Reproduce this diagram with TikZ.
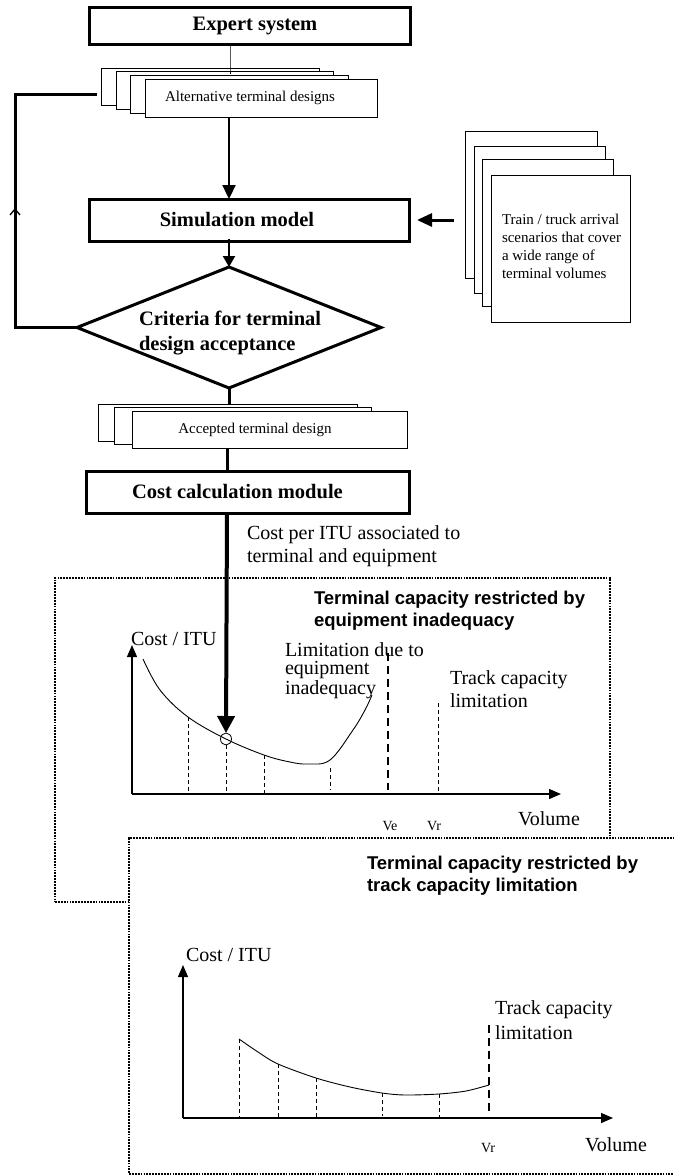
\documentclass[tikz,border=0pt]{standalone}
\usepackage{fontspec}
\setmainfont{Liberation Serif}
\newfontfamily\titlesans{Liberation Sans}
\usetikzlibrary{arrows.meta,shapes.geometric}
\begin{document}
\begin{tikzpicture}[x=1pt,y=-1pt,
  every node/.style={inner sep=0pt, outer sep=0pt},
  heavybox/.style={draw, line width=3pt, fill=white},
  sheet/.style={draw, line width=0.9pt, fill=white},
  boldlabel/.style={font=\fontsize{20.5}{25}\selectfont\bfseries},
  smalltext/.style={font=\fontsize{15}{18}\selectfont},
  charttext/.style={font=\fontsize{20}{20}\selectfont},
  paneltitle/.style={font=\fontsize{18.5}{22}\selectfont\titlesans\bfseries, align=left},
  flow/.style={line width=2.2pt},
  heavy/.style={line width=3pt},
  axisline/.style={line width=1.3pt, -{Triangle[length=12pt,width=10pt]}},
  guide/.style={line width=0.8pt, dash pattern=on 4pt off 3pt},
  limit/.style={line width=2.6pt, dash pattern=on 8pt off 5pt},
  panel/.style={draw, line width=1.8pt, dash pattern=on 1.8pt off 1.1pt},
  curve/.style={line width=0.9pt},
]
\useasboundingbox (0,0) rectangle (673,1176);
\fill[white] (0,0) rectangle (673,1176);

% ---------- flow chart ----------
\coordinate (spine) at (229,0);
\coordinate (spinelow) at (227,0);

\node[heavybox, minimum width=321pt, minimum height=37pt, anchor=north west, boldlabel]
  (expert) at (89.5,7.5) {\hspace*{10pt}Expert system};

\node[sheet, minimum width=218pt, minimum height=37pt, anchor=north west] (alt1) at (101,68) {};
\node[sheet, minimum width=217pt, minimum height=38pt, anchor=north west] (alt2) at (116,71) {};
\draw[line width=1pt] (expert.south -| 230,0) -- (alt2.north -| 230,0) -- +(0,3);
\node[sheet, minimum width=218pt, minimum height=38pt, anchor=north west] (alt3) at (130,75) {};
\node[sheet, minimum width=232pt, minimum height=38pt, anchor=north west, smalltext]
  (alt4) at (145,79) {\hspace*{-22pt}Alternative terminal designs};

\node[heavybox, minimum width=320pt, minimum height=42pt, anchor=north west, boldlabel]
  (sim) at (89,199) {\hspace*{-24pt}Simulation model};

\draw[flow, -{Triangle[length=14pt,width=13pt]}] (alt4.south -| spine) -- (sim.north -| spine);

\node[heavybox, diamond, minimum width=304pt, minimum height=121pt] (crit) at (229,327.5) {};
\node[boldlabel, anchor=north west, align=left] (crittext) at (139,311)
  {Criteria for terminal\\design acceptance};

\draw[flow, -{Triangle[length=11pt,width=12pt]}] ([yshift=2.5pt]sim.south -| spine) -- (crit.north);

% feedback loop
\coordinate (fbstart) at (97,94);
\coordinate (fbcorner) at (15,94);
\draw[heavy] (fbstart) -- (fbcorner) |- (crit.west);
\draw[line width=1.3pt] (10,215) -- (15,209) -- (20,215);

% scenario sheets
\node[sheet, minimum width=132pt, minimum height=147pt, anchor=north west] (sc1) at (465,131) {};
\node[sheet, minimum width=131pt, minimum height=147pt, anchor=north west] (sc2) at (474,146) {};
\node[sheet, minimum width=131pt, minimum height=147pt, anchor=north west] (sc3) at (482,159) {};
\node[sheet, minimum width=139pt, minimum height=147pt, anchor=north west] (sc4) at (491,175) {};
\node[smalltext, anchor=north west, align=left] (sctext) at (502,214)
  {Train / truck arrival\\scenarios that cover\\a wide range of\\terminal volumes};
\draw[heavy, -{Triangle[length=15pt,width=13pt]}] ([xshift=-11pt]sc1.west |- sim.east) -- ([xshift=8pt]sim.east);

% accepted design
\node[sheet, minimum width=259pt, minimum height=37pt, anchor=north west] (acc1) at (98,404) {};
\node[sheet, minimum width=257pt, minimum height=37pt, anchor=north west] (acc2) at (114,407) {};
\node[sheet, minimum width=275pt, minimum height=37pt, anchor=north west, smalltext]
  (acc3) at (132,411) {\hspace*{-29pt}Accepted terminal design};
\draw[heavy] (crit.south) -- (acc1.north -| crit.south);

\node[heavybox, minimum width=323pt, minimum height=42pt, anchor=north west, boldlabel]
  (cost) at (86,471) {\hspace*{-20pt}Cost calculation module};
\draw[heavy] (acc3.south -| spinelow) -- (cost.north -| spinelow);

\node[charttext, anchor=north west, align=left, font=\fontsize{20}{23}\selectfont] (costtext) at (247,526)
  {Cost per ITU associated to\\terminal and equipment};

% ---------- panel A ----------
\node[panel, minimum width=555pt, minimum height=324pt, anchor=north west] (panelA) at (55,578) {};
\node[paneltitle, anchor=north west] (titleA) at (314,591.5)
  {Terminal capacity restricted by\\equipment inadequacy};

\coordinate (oA) at (132,794);
\coordinate (yA) at (132,645);
\coordinate (xA) at (561,794);
\draw[axisline] (oA) -- (yA);
\draw[axisline] (oA) -- (xA);
\node[charttext, anchor=base west] (costA) at (131,645) {Cost / ITU};

\draw[curve] plot[smooth, tension=0.6] coordinates {(143,659) (160,690) (188,717) (226,739) (264,755) (290,762) (308,764) (330,760) (353,730) (365,710) (372,695)};
\draw[guide] (188,717) -- (188,794);
\draw[guide] (226,745) -- (226,794);
\draw[guide] (264,755) -- (264,794);
\draw[guide] (330,768) -- (330,790);
\draw[limit] (388,653) -- (388,790);
\draw[guide] (438,703) -- (438,794);

\node[draw, ellipse, line width=0.8pt, minimum width=11pt, minimum height=12pt] (mark) at (226,739) {};
\draw[line width=4pt, -{Triangle[length=17pt,width=17pt]}] (cost.south -| spinelow) -- (mark.north);

\node[charttext, anchor=north west, align=left, font=\fontsize{20}{18}\selectfont] (limA) at (285,643)
  {Limitation due to\\equipment\\inadequacy};
\node[charttext, anchor=north west, align=left, font=\fontsize{20}{23}\selectfont] (trackA) at (450,670.5)
  {Track capacity\\limitation};
\node[font=\fontsize{14}{14}\selectfont, anchor=base] (ve) at (390,830) {Ve};
\node[font=\fontsize{14}{14}\selectfont, anchor=base] (vrA) at (434,830) {Vr};
\node[charttext, anchor=base west] (volA) at (518,825) {Volume};

% ---------- panel B ----------
\node[panel, fill=white, minimum width=560pt, minimum height=336pt, anchor=north west] (panelB) at (129,838) {};
\node[paneltitle, anchor=north west] (titleB) at (367,856.5)
  {Terminal capacity restricted by\\track capacity limitation};

\coordinate (oB) at (183,1118);
\coordinate (yB) at (183,965);
\coordinate (xB) at (613,1118);
\draw[axisline] (oB) -- (yB);
\draw[axisline] (oB) -- (xB);
\node[charttext, anchor=base west] (costB) at (186,961) {Cost / ITU};

\draw[curve] plot[smooth, tension=0.5] coordinates {(239,1039) (258,1052) (278,1064) (316,1078) (350,1087) (382,1093) (405,1095) (439,1094) (466,1091) (489,1085)};
\draw[guide] (239,1039) -- (239,1118);
\draw[guide] (278,1064) -- (278,1118);
\draw[guide] (316,1078) -- (316,1118);
\draw[guide] (382,1093) -- (382,1116);
\draw[guide] (439,1094) -- (439,1118);
\draw[limit] (489,1025) -- (489,1115);

\node[charttext, anchor=north west, align=left, font=\fontsize{20}{25}\selectfont] (trackB) at (495,1000.5)
  {Track capacity\\limitation};
\node[font=\fontsize{14}{14}\selectfont, anchor=base] (vrB) at (488,1152) {Vr};
\node[charttext, anchor=base west] (volB) at (585,1151) {Volume};
\end{tikzpicture}
\end{document}
